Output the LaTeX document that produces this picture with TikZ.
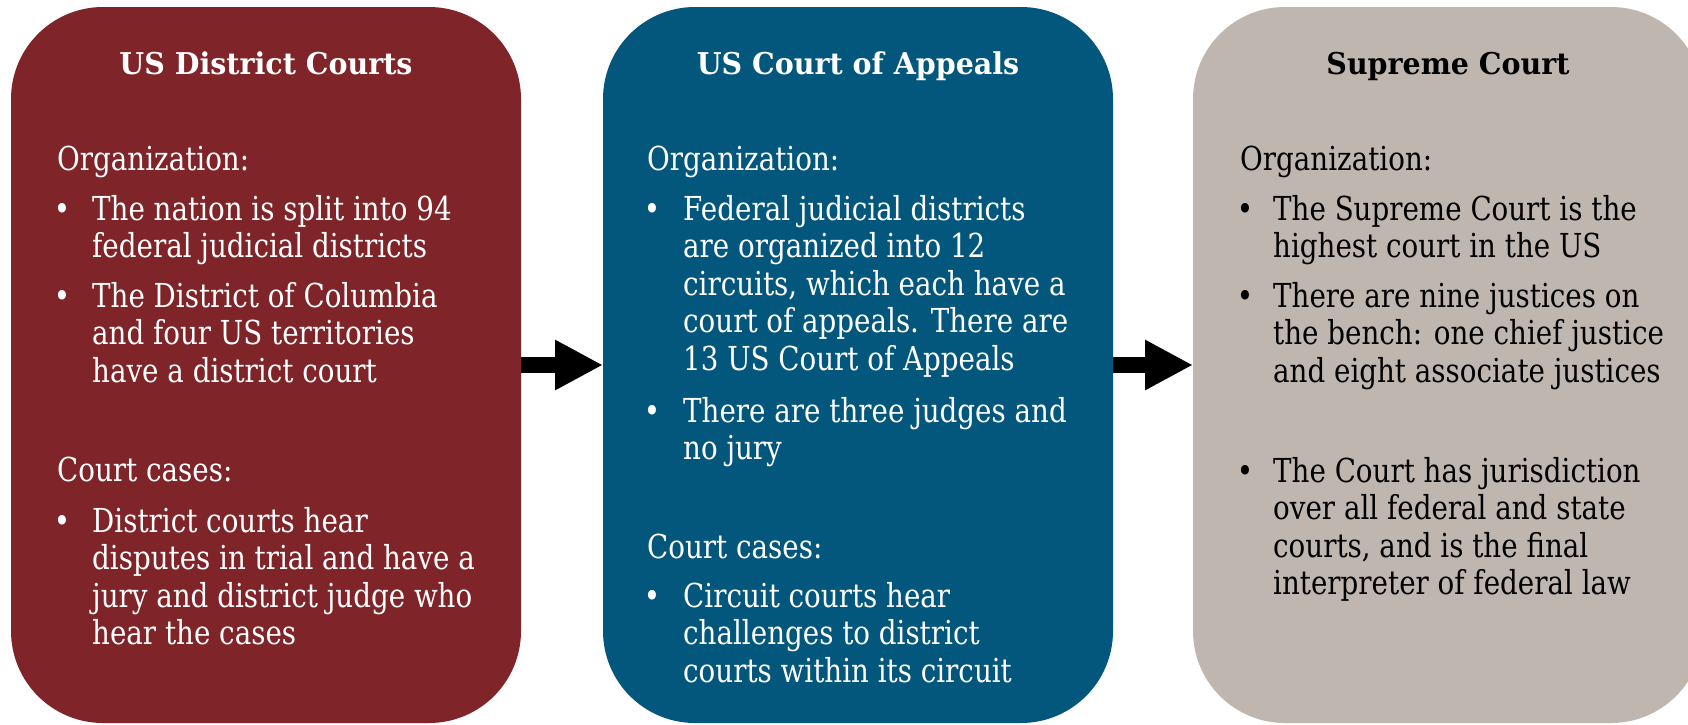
\documentclass[tikz,border=0pt]{standalone}
\usepackage{fontspec}
\setmainfont{DejaVu Serif}[FakeStretch=0.84]
\newfontfamily\titlefont{DejaVu Serif}[FakeStretch=0.95]
\usetikzlibrary{arrows.meta}
\definecolor{courtred}{HTML}{7F2428}
\definecolor{courtblue}{HTML}{03567C}
\definecolor{courtgray}{HTML}{BFB6B0}
\tikzset{
  courtbox/.style={rectangle, rounded corners=92pt, minimum width=510pt,
    minimum height=716pt, inner sep=0pt, outer sep=0pt, draw=none, anchor=north west},
  ttl/.style={anchor=base, inner sep=0pt, font=\titlefont\bfseries\fontsize{30}{36}\selectfont},
  body/.style={anchor=base west, inner sep=0pt, font=\fontsize{33}{37.5}\selectfont},
  bul/.style={anchor=base, inner sep=0pt, font=\fontsize{33}{37.5}\selectfont},
  flow/.style={line width=16pt, -{Triangle[length=48pt,width=47pt]}},
}
\newcommand{\lines}[1]{\begin{tabular}[t]{@{}l@{}}#1\end{tabular}}
\begin{document}
\begin{tikzpicture}[x=1pt,y=1pt]
\useasboundingbox (0,0) rectangle (1688,-724);
\clip (0,0) rectangle (1688,-724);
\fill[white] (0,0) rectangle (1688,-724);

\node[courtbox, fill=courtred]  (b1) at (11,-7) {};
\node[courtbox, fill=courtblue] (b2) at (603,-7) {};
\node[courtbox, fill=courtgray] (b3) at (1193,-7) {};

\draw[flow] (b1.east) -- (b2.west);
\draw[flow] (b2.east) -- (b3.west);

% Box 1
\begin{scope}[every node/.append style={text=white}]
\node[ttl] (t1) at (266,-74) {US District Courts};
\node[body] (o1) at (57,-170) {Organization:};
\node[bul] (u11) at (62,-220) {•};
\node[body] (p11) at (92,-220) {\lines{The nation is split into 94\\federal judicial districts}};
\node[bul] (u12) at (62,-307) {•};
\node[body] (p12) at (92,-307) {\lines{The District of Columbia\\and four US territories\\have a district court}};
\node[body] (c1) at (57,-481) {Court cases:};
\node[bul] (u13) at (62,-532) {•};
\node[body] (p13) at (92,-532) {\lines{District courts hear\\disputes in trial and have a\\jury and district judge who\\hear the cases}};
\end{scope}

% Box 2
\begin{scope}[every node/.append style={text=white}]
\node[ttl] (t2) at (858,-74) {US Court of Appeals};
\node[body] (o2) at (647,-170) {Organization:};
\node[bul] (u21) at (652,-220) {•};
\node[body] (p21) at (683,-220) {\lines{Federal judicial districts\\are organized into 12\\circuits, which each have a\\court of appeals. There are\\13 US Court of Appeals}};
\node[bul] (u22) at (652,-422) {•};
\node[body] (p22) at (683,-422) {\lines{There are three judges and\\no jury}};
\node[body] (c2) at (647,-558) {Court cases:};
\node[bul] (u23) at (652,-607) {•};
\node[body] (p23) at (683,-607) {\lines{Circuit courts hear\\challenges to district\\courts within its circuit}};
\end{scope}

% Box 3
\begin{scope}[every node/.append style={text=black}]
\node[ttl] (t3) at (1448,-74) {Supreme Court};
\node[body] (o3) at (1240,-170) {Organization:};
\node[bul] (u31) at (1245,-220) {•};
\node[body] (p31) at (1273,-220) {\lines{The Supreme Court is the\\highest court in the US}};
\node[bul] (u32) at (1245,-307) {•};
\node[body] (p32) at (1273,-307) {\lines{There are nine justices on\\the bench: one chief justice\\and eight associate justices}};
\node[bul] (u33) at (1245,-482) {•};
\node[body] (p33) at (1273,-482) {\lines{The Court has jurisdiction\\over all federal and state\\courts, and is the final\\interpreter of federal law}};
\end{scope}
\end{tikzpicture}
\end{document}
